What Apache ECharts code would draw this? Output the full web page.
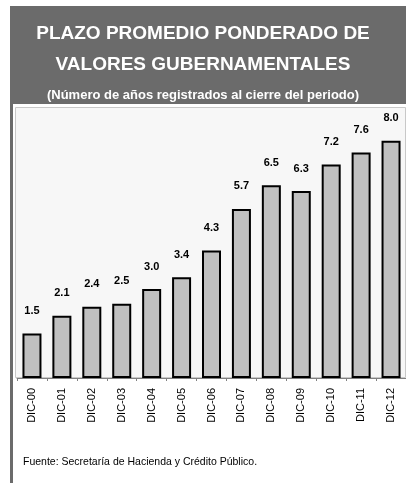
<!DOCTYPE html>
<html>
<head>
<meta charset="utf-8">
<script src="https://cdn.jsdelivr.net/npm/echarts@6/dist/echarts.min.js"></script>
<style>
  html, body { margin: 0; padding: 0; background: #fff; }
  #chart { width: 406px; height: 483px; }
</style>
</head>
<body>
<div id="chart"></div>
<script>
// datos del grafico
var categorias = ['DIC-00', 'DIC-01', 'DIC-02', 'DIC-03', 'DIC-04', 'DIC-05', 'DIC-06',
    'DIC-07', 'DIC-08', 'DIC-09', 'DIC-10', 'DIC-11', 'DIC-12'];
var plazo = [1.5, 2.1, 2.4, 2.5, 3.0, 3.4, 4.3, 5.7, 6.5, 6.3, 7.2, 7.6, 8.0];

var fuente = 'Liberation Sans, Arial, sans-serif';
var gris = '#6b6b6b';

var mychart = echarts.init(document.getElementById('chart'));

mychart.setOption({
    animation: false,
    title: [
        {
            text: 'PLAZO PROMEDIO PONDERADO DE',
            left: 'center',
            top: 19,
            textStyle: { color: '#fff', fontFamily: fuente, fontSize: 19, fontWeight: 'bold' }
        },
        {
            text: 'VALORES GUBERNAMENTALES',
            left: 'center',
            top: 50,
            textStyle: { color: '#fff', fontFamily: fuente, fontSize: 19, fontWeight: 'bold' }
        },
        {
            text: '(Número de años registrados al cierre del periodo)',
            left: 'center',
            top: 84,
            textStyle: { color: '#fff', fontFamily: fuente, fontSize: 13, fontWeight: 'bold' }
        },
        {
            text: 'Fuente: Secretaría de Hacienda y Crédito Público.',
            left: 18,
            top: 452,
            textStyle: { color: '#000', fontFamily: fuente, fontSize: 10.5, fontWeight: 'normal' }
        }
    ],
    graphic: [
        // encabezado gris
        { type: 'rect', z: -10, shape: { x: 10, y: 6, width: 396, height: 98 }, style: { fill: gris } },
        // franja izquierda
        { type: 'rect', z: -10, shape: { x: 10, y: 6, width: 3, height: 477 }, style: { fill: gris } },
        // caja del area de trazado
        {
            type: 'rect', z: -10,
            shape: { x: 15.5, y: 107.5, width: 390, height: 270 },
            style: { fill: '#f7f7f7', stroke: '#c8c8c8', lineWidth: 1 }
        }
    ],
    grid: {
        left: 17,
        right: 0,
        top: 111,
        bottom: 105
    },
    xAxis: {
        type: 'category',
        data: categorias,
        axisLine: { lineStyle: { color: '#808080', width: 1 } },
        axisTick: { show: true, length: 3, lineStyle: { color: '#808080' } },
        axisLabel: {
            rotate: 90,
            margin: 10,
            color: '#000',
            fontFamily: fuente,
            fontSize: 11
        }
    },
    yAxis: {
        type: 'value',
        min: 0,
        max: 9,
        show: false,
        splitLine: { show: false }
    },
    series: [
        {
            type: 'bar',
            data: plazo,
            barWidth: 19,
            itemStyle: {
                color: '#c0c0c0',
                borderColor: '#000',
                borderWidth: 2
            },
            label: {
                show: true,
                position: 'top',
                distance: 17,
                color: '#000',
                fontFamily: fuente,
                fontSize: 11,
                fontWeight: 'bold',
                formatter: function (p) {
                    return p.value.toFixed(1);
                }
            }
        }
    ]
});
</script>
</body>
</html>
